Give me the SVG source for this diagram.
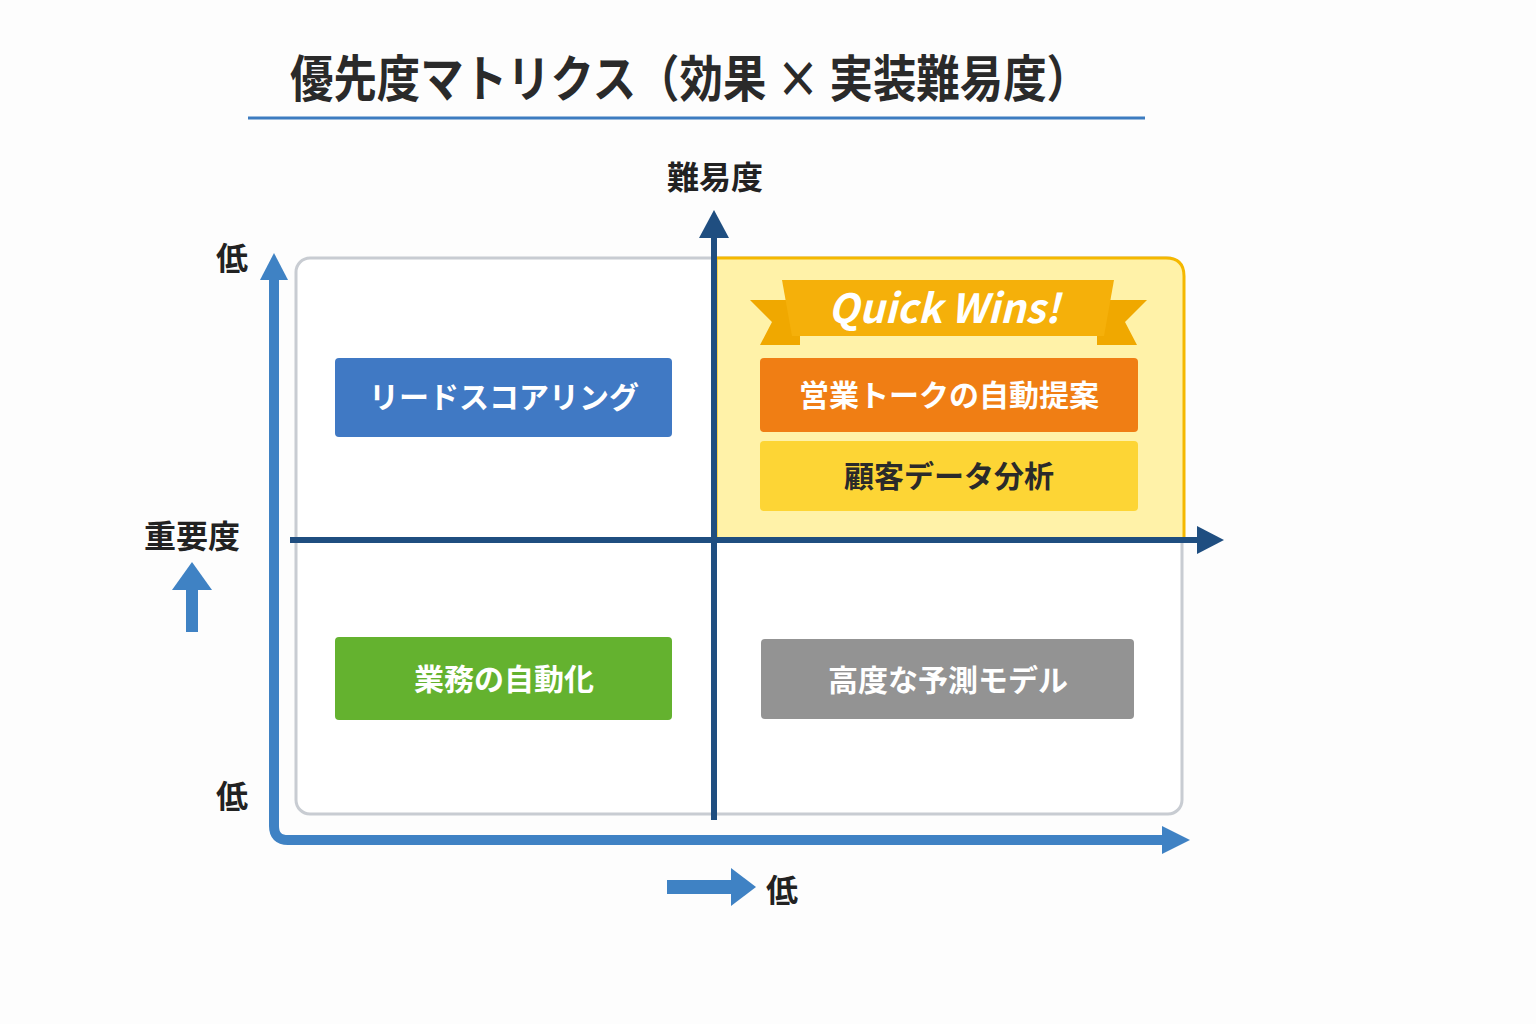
<svg xmlns="http://www.w3.org/2000/svg" width="1536" height="1024" viewBox="0 0 1536 1024">
<style>
text{font-family:"Noto Sans CJK JP","Noto Sans",sans-serif;font-weight:700;text-anchor:middle}
.lbl{font-size:32px;fill:#222}
.box{font-size:30px;fill:#fff}
</style>
<rect width="1536" height="1024" fill="#fdfdfd"/>
<g id="title">
<text x="290" y="97" font-size="50" fill="#2a2a2a" style="text-anchor:start" textLength="800" lengthAdjust="spacingAndGlyphs">優先度マトリクス（効果 × 実装難易度）</text>
<line x1="248" y1="118" x2="1145" y2="118" stroke="#3d7cc0" stroke-width="3"/>
</g>
<g id="frame"><rect x="296" y="258" width="886" height="556" rx="14" fill="#fff" stroke="#c8ccd2" stroke-width="3"/></g>
<g id="quickwins">
<path d="M716 258 H1166 Q1184 258 1184 276 V540 H716 Z" fill="#fff2a8" stroke="#f5b800" stroke-width="3"/>
<polygon points="750,300 800,300 800,345 760,345 772,322" fill="#f0a800"/>
<polygon points="1147,300 1097,300 1097,345 1137,345 1125,322" fill="#f0a800"/>
<polygon points="782,280 1114,280 1104,336 792,336" fill="#f5b00a"/>
<text x="944" y="323" font-size="40" font-style="italic" fill="#fff" font-family="'Open Sans',sans-serif">Quick Wins!</text>
</g>
<g id="connectors" fill="none">
<path d="M274 275 V826 Q274 840 288 840 H1168" stroke="#3f82c4" stroke-width="10"/>
<polygon points="260,280 274,253 288,280" fill="#3f82c4"/>
<polygon points="1162,826 1190,840 1162,854" fill="#3f82c4"/>
<line x1="714" y1="820" x2="714" y2="235" stroke="#1f4e80" stroke-width="6"/>
<polygon points="699,238 714,210 729,238" fill="#1f4e80"/>
<line x1="290" y1="540" x2="1200" y2="540" stroke="#1f4e80" stroke-width="6"/>
<polygon points="1197,526 1224,540 1197,554" fill="#1f4e80"/>
<line x1="192" y1="632" x2="192" y2="585" stroke="#3f82c4" stroke-width="12"/>
<polygon points="172,590 192,562 212,590" fill="#3f82c4"/>
<line x1="667" y1="887" x2="735" y2="887" stroke="#3f82c4" stroke-width="14"/>
<polygon points="731,868 756,887 731,906" fill="#3f82c4"/>
</g>
<g id="labels">
<text class="lbl" x="715" y="189">難易度</text>
<text class="lbl" x="232" y="270">低</text>
<text class="lbl" x="232" y="808">低</text>
<text class="lbl" x="192" y="548">重要度</text>
<text class="lbl" x="782" y="902">低</text>
</g>
<g id="n1"><rect x="335" y="358" width="337" height="79" rx="4" fill="#4079c4"/><text class="box" x="504" y="408">リードスコアリング</text></g>
<g id="n2"><rect x="760" y="358" width="378" height="74" rx="4" fill="#f07e14"/><text class="box" x="949" y="406">営業トークの自動提案</text></g>
<g id="n3"><rect x="760" y="441" width="378" height="70" rx="4" fill="#fdd535"/><text class="box" x="949" y="487" style="fill:#2a2a2a">顧客データ分析</text></g>
<g id="n4"><rect x="335" y="637" width="337" height="83" rx="4" fill="#64b22f"/><text class="box" x="504" y="690">業務の自動化</text></g>
<g id="n5"><rect x="761" y="639" width="373" height="80" rx="4" fill="#939393"/><text class="box" x="948" y="691">高度な予測モデル</text></g>
</svg>
